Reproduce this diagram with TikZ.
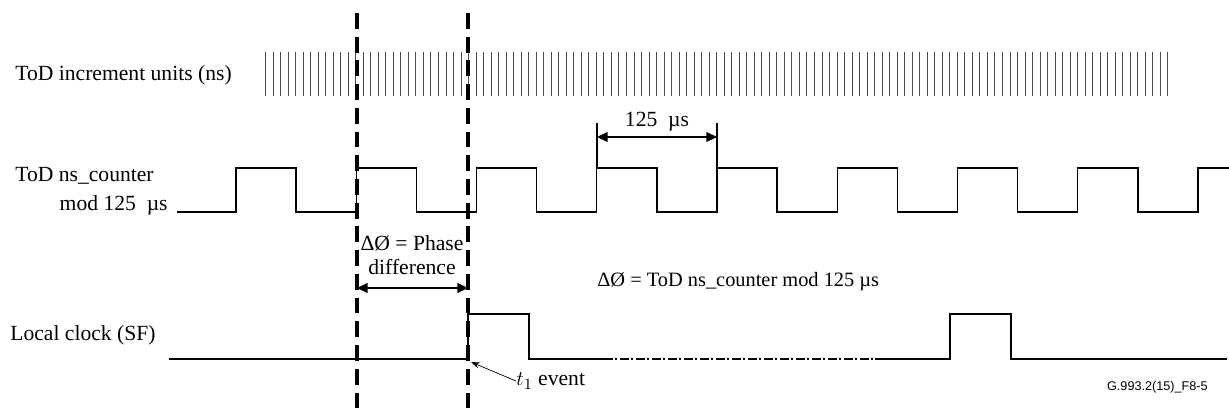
\documentclass[tikz,border=0pt]{standalone}
\usepackage{fontspec}
\setmainfont{Liberation Serif}
\newfontfamily\labelfont{Liberation Sans}
\usetikzlibrary{arrows.meta,positioning}

\tikzset{
  wave/.style={line width=0.75pt},
  marker/.style={line width=2pt, dash pattern=on 9pt off 4.5pt},
  dimline/.style={line width=0.9pt, {Triangle[length=6pt,width=5.5pt]}-{Triangle[length=6pt,width=5.5pt]}},
  lbl/.style={inner sep=0pt, font=\fontsize{12.3}{14}\selectfont}
}

\begin{document}
\begin{tikzpicture}[x=0.02cm, y=-0.02cm]
        \useasboundingbox (0,0) rectangle (1229,410);
        % row labels
        \node[lbl, anchor=west] (inc) at (15,75) {ToD increment units (ns)};
        \node[lbl, anchor=west] (cnt) at (15,176) {ToD ns\_counter};
        \node[lbl, anchor=east] (mod) at (168,205) {mod 125\ \ µs};
        \node[lbl, anchor=west] (loc) at (10,335) {Local clock (SF)};
        % ns increments
        \foreach \i in {0,...,120}
        \draw[black!70, line width=0.55pt] ({265.5+7.52*\i},52) -- ({265.5+7.52*\i},96);
        % ns_counter mod 125 us
        \draw[wave] (177,212) \foreach \k in {0,...,7} { -- ({236+120.25*\k},212) -- ++(0,-44) -- ++(60.1,0) -- ++(0,44) } -- (1198,212) -- (1198,168) -- (1229,168);
        % local clock
        \draw[wave] (169,359) -- (468,359) -- (468,314) -- (529,314) -- (529,359) -- (604,359);
        \draw[line width=1pt, dash pattern=on 5pt off 1.5pt on 1.1pt off 1.5pt] (604,359) -- (875,359);
        \draw[wave] (875,359) -- (950,359) -- (950,314) -- (1011,314) -- (1011,359) -- (1227,359);
        % 125 us period
        \coordinate (pa) at (597,137);
        \coordinate (pb) at (717,137);
        \draw[wave] (597,123) -- (597,168);
        \draw[wave] (717,123) -- (717,168);
        \draw[dimline] (pa) -- (pb) node[lbl, midway, above=3pt] (per) {125\ \ µs};
        % phase markers
        \coordinate (ma) at (357,288);
        \coordinate (mb) at (468,288);
        \draw[marker] (357,13) -- (357,410);
        \draw[marker] (468,13) -- (468,410);
        \draw[dimline] (ma) -- (mb);
        \node[lbl, align=center] (phase) at (412,255) {ΔØ = Phase\\difference};
        \node[lbl, anchor=west, font=\fontsize{11.6}{14}\selectfont] (eq) at (597,282) {ΔØ = ToD ns\_counter mod 125 µs};
        % t1 event
        \coordinate (t1) at (471,362);
        \node[lbl, anchor=west] (ev) at (516,381) {$t_1$ event};
        \draw[line width=0.4pt, -{Stealth[length=5pt,width=3.5pt]}] (ev.west) -- (t1);
        \node[anchor=east, inner sep=0pt, font=\labelfont\fontsize{7.2}{9}\selectfont] (fig) at (1208,387) {G.993.2(15)\_F8-5};
      \end{tikzpicture}
\end{document}
